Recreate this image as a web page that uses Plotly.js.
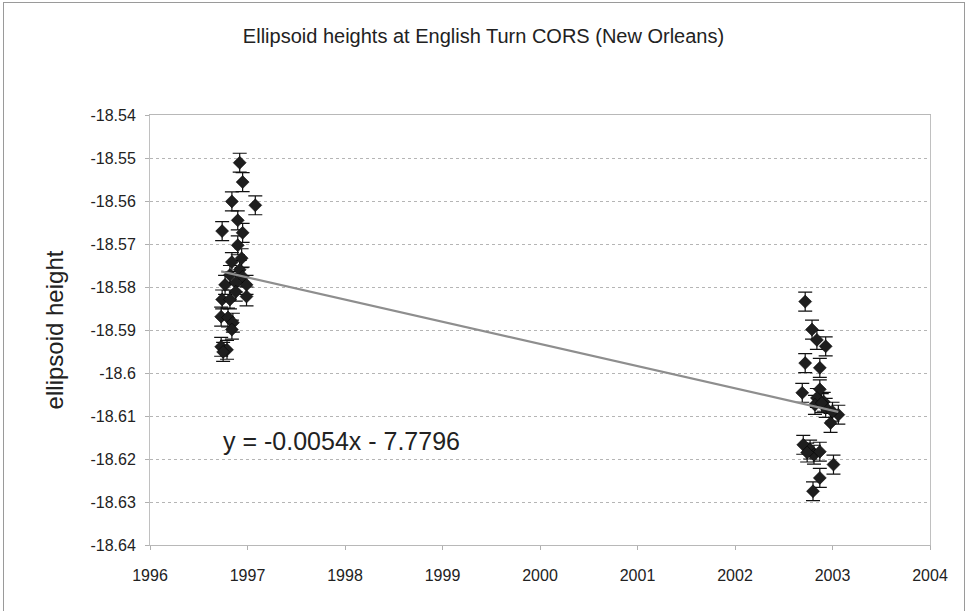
<!DOCTYPE html>
<html>
<head>
<meta charset="utf-8">
<script src="https://cdn.plot.ly/plotly-3.0.1.min.js"></script>
<style>
  html, body { margin:0; padding:0; background:#fff; }
  #wrap { position:relative; width:967px; height:611px; overflow:hidden; }
  #chart { position:absolute; left:0; top:0; width:967px; height:611px; }
  #frame { position:absolute; left:3px; top:2px; width:960px; height:640px; border:1px solid #9a9a9a; pointer-events:none; }
</style>
</head>
<body>
<div id="wrap"><div id="chart"></div><div id="frame"></div></div>
<script>
// Observation epochs (decimal years) and ellipsoid heights (m)
const years = [
  1996.92, 1996.95, 1996.84, 1997.08, 1996.90, 1996.74, 1996.95, 1996.90, 1996.94, 1996.84,
  1996.92, 1996.95, 1996.82, 1996.77, 1996.99, 1996.88, 1996.99, 1996.88, 1996.74, 1996.82,
  1996.73, 1996.80, 1996.85, 1996.84, 1996.73, 1996.79, 1996.75,
  2002.72, 2002.79, 2002.84, 2002.93, 2002.72, 2002.87, 2002.69, 2002.87, 2002.84, 2002.91,
  2002.82, 2002.93, 2002.89, 2003.06, 2002.98, 2003.00, 2002.70, 2002.77, 2002.81, 2002.87,
  2002.74, 2003.01, 2002.87, 2002.80
];
const heights = [
  -18.5511, -18.5556, -18.5601, -18.5610, -18.5645, -18.5670, -18.5674, -18.5703, -18.5733, -18.5742,
  -18.5760, -18.5776, -18.5772, -18.5795, -18.5795, -18.5790, -18.5822, -18.5811, -18.5829, -18.5829,
  -18.5869, -18.5871, -18.5883, -18.5899, -18.5939, -18.5946, -18.5951,
  -18.5834, -18.5899, -18.5923, -18.5938, -18.5977, -18.5988, -18.6046, -18.6038, -18.6058, -18.6067,
  -18.6074, -18.6081, -18.6070, -18.6097, -18.6116, -18.6090, -18.6167, -18.6178, -18.6190, -18.6183,
  -18.6185, -18.6213, -18.6244, -18.6275
];
const errorHalf = 0.0022;

const xTickVals = [1996, 1997, 1998, 1999, 2000, 2001, 2002, 2003, 2004];
const xTickText = ['1996', '1997', '1998', '1999', '2000', '2001', '2002', '2003', '2004'];
const yTickVals = [-18.54, -18.55, -18.56, -18.57, -18.58, -18.59, -18.60, -18.61, -18.62, -18.63, -18.64];
const yTickText = ['-18.54', '-18.55', '-18.56', '-18.57', '-18.58', '-18.59', '-18.6', '-18.61', '-18.62', '-18.63', '-18.64'];

const titleText = 'Ellipsoid heights at English Turn CORS (New Orleans)';
const yTitleText = 'ellipsoid height';
const equationText = 'y = -0.0054x - 7.7796';

// Least-squares linear trendline over the observed points
const n = years.length;
const mx = years.reduce((a, b) => a + b, 0) / n;
const my = heights.reduce((a, b) => a + b, 0) / n;
let sxy = 0, sxx = 0;
for (let i = 0; i < n; i++) { sxy += (years[i] - mx) * (heights[i] - my); sxx += (years[i] - mx) ** 2; }
const slope = sxy / sxx, icpt = my - slope * mx;
const tx = [Math.min(...years), Math.max(...years)];
const ty = tx.map(v => icpt + slope * v);

const font = 'Arial, "Liberation Sans", Helvetica, sans-serif';

const traces = [
  {
    x: years, y: heights, type: 'scatter', mode: 'markers',
    marker: { symbol: 'diamond', size: 10, color: '#1e1e1e', line: { color: '#000', width: 0.5 } },
    error_y: { type: 'constant', value: errorHalf, color: '#111', thickness: 1.2, width: 7 },
    hoverinfo: 'x+y', showlegend: false
  },
  {
    x: tx, y: ty, type: 'scatter', mode: 'lines',
    line: { color: '#8e8e8e', width: 2.2 }, hoverinfo: 'skip', showlegend: false
  }
];

const layout = {
  width: 967, height: 611,
  paper_bgcolor: '#fff', plot_bgcolor: '#fff',
  margin: { l: 150, r: 37, t: 115, b: 66 },
  font: { family: font, color: '#222' },
  title: { text: titleText, x: 0.5, xanchor: 'center', xref: 'container',
           y: 1 - 36 / 611, yref: 'container', yanchor: 'middle',
           font: { family: font, size: 20, color: '#222' } },
  xaxis: {
    range: [1996, 2004], tickmode: 'array', tickvals: xTickVals, ticktext: xTickText,
    showgrid: false, zeroline: false, showline: true, linecolor: '#b8b8b8', linewidth: 1, mirror: true,
    ticks: 'outside', ticklen: 4, tickcolor: '#b0b0b0',
    tickfont: { family: font, size: 16, color: '#222' }, ticklabelstandoff: 12
  },
  yaxis: {
    range: [-18.64, -18.54], tickmode: 'array', tickvals: yTickVals, ticktext: yTickText,
    showgrid: true, gridcolor: '#b5b5b5', griddash: 'dot', gridwidth: 1,
    zeroline: false, showline: true, linecolor: '#c0c0c0', linewidth: 1, mirror: true,
    ticks: 'outside', ticklen: 4, tickcolor: '#b0b0b0',
    tickfont: { family: font, size: 16, color: '#222' }, ticklabelstandoff: 6,
    title: { text: yTitleText, font: { family: font, size: 24, color: '#222' }, standoff: 20 }
  },
  annotations: [{
    text: equationText, xref: 'x', yref: 'y', x: 1996.73, y: -18.6157,
    xanchor: 'left', yanchor: 'middle', showarrow: false,
    font: { family: font, size: 25, color: '#222' }
  }]
};

Plotly.newPlot('chart', traces, layout, { displayModeBar: false, staticPlot: true });
</script>
</body>
</html>
